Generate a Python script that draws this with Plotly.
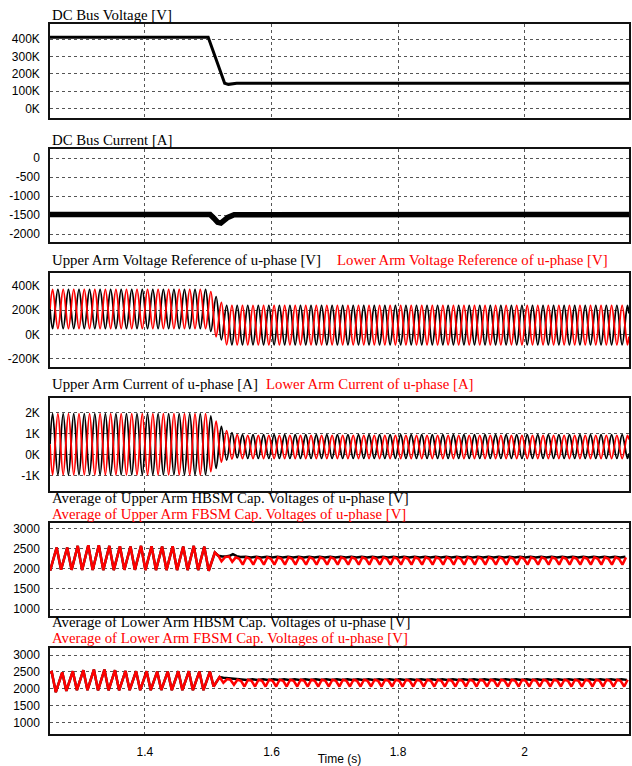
import numpy as np
import plotly.graph_objects as go

# ---------------------------------------------------------------- data
T_START, T_END = 1.25, 2.165
F_AC = 60.0                      # ac fundamental, Hz
X_TICKS = [1.4, 1.6, 1.8, 2.0]
X_TICK_TEXT = ["1.4", "1.6", "1.8", "2"]

# DC bus voltage [kV] and current [A]
VDC_T = [1.25, 1.50, 1.526, 1.532, 1.545, 2.165]
VDC_KV = [410, 410, 145, 139, 145, 145]
IDC_T = [1.25, 1.503, 1.509, 1.515, 1.520, 1.525, 1.531, 1.541, 2.165]
IDC_A = [-1485, -1485, -1580, -1690, -1710, -1640, -1560, -1490, -1485]

# Arm voltage references [kV]: value at window start/end, then one turning point per half cycle
VREF_UP_EDGE = [208, 172]
VREF_UP_PRE = [47, 370] * 15
VREF_UP_STEP = [24, 310, -45, 238]
VREF_UP_POST = [-85, 238] * 38
VREF_LO_EDGE = [208, -18]
VREF_LO_PRE = [370, 47] * 15
VREF_LO_STEP = [352, -20, 262, -85]
VREF_LO_POST = [238, -85] * 38

# Arm currents [A], same half-cycle turning points
IARM_UP_EDGE = [500, 60]
IARM_UP_PRE = [1950, -950] * 15
IARM_UP_STEP = [1850, -650, 1350, -250, 1050, -150]
IARM_UP_POST = [950, -170] * 37
IARM_LO_EDGE = [500, 720]
IARM_LO_PRE = [-950, 1950] * 15
IARM_LO_STEP = [-800, 1600, -350, 1150, -200, 950]
IARM_LO_POST = [-180, 920] * 37

# Upper arm average capacitor voltages [V]
CAPU_START = 1990
CAPU_TROUGH_T0, CAPU_PEAK_T0 = 1.2508, 1.2605
CAPU_PRE_TROUGHS = [1985, 1975, 1970, 1965, 1965, 1965, 1965, 1970,
                    1970, 1965, 1965, 1965, 1965, 1965, 1965, 1945]
CAPU_PRE_PEAKS = [2525, 2525, 2565, 2580, 2580, 2565, 2555, 2550,
                  2565, 2555, 2550, 2555, 2550, 2565, 2545]
CAPU_HB_STEP_T = [1.5105, 1.516, 1.522, 1.528, 1.534, 1.539, 1.545, 1.551]
CAPU_HB_STEP = [2400, 2320, 2300, 2300, 2320, 2360, 2310, 2290]
CAPU_HB_RIPPLE = [2295, 2275]
CAPU_FB_STEP_T = [1.5105, 1.516, 1.521, 1.527, 1.533, 1.538]
CAPU_FB_STEP = [2400, 2320, 2180, 2290, 2300, 2170]
CAPU_FB_RIPPLE = [2280, 2245, 2100]

# Lower arm average capacitor voltages [V]
CAPL_START = 2480
CAPL_PEAK_T0, CAPL_TROUGH_T0 = 1.2527, 1.2592
CAPL_PRE_PEAKS = [2500, 2490, 2520, 2550, 2570, 2570, 2550, 2530,
                  2520, 2520, 2510, 2510, 2520, 2520, 2510, 2510]
CAPL_PRE_TROUGHS = [1900, 1940, 1960, 1960, 1955, 1955, 1955, 1960,
                    1960, 1960, 1965, 1960, 1960, 1960, 1960]
CAPL_HB_STEP_T = [1.5085, 1.518, 1.524, 1.530, 1.536, 1.545]
CAPL_HB_STEP = [2070, 2350, 2330, 2320, 2300, 2290]
CAPL_HB_RIPPLE = [2285, 2265]
CAPL_FB_STEP_T = [1.5085, 1.518, 1.524, 1.530, 1.535, 1.5407]
CAPL_FB_STEP = [2070, 2350, 2180, 2290, 2270, 2120]
CAPL_FB_RIPPLE = [2270, 2240, 2070]

TITLES = [
    ("DC Bus Voltage [V]", None),
    ("DC Bus Current [A]", None),
    ("Upper Arm Voltage Reference of u-phase [V]", "Lower Arm Voltage Reference of u-phase [V]"),
    ("Upper Arm Current of u-phase [A]", "Lower Arm Current of u-phase [A]"),
    ("Average of Upper Arm HBSM Cap. Voltages of u-phase [V]",
     "Average of Upper Arm FBSM Cap. Voltages of u-phase [V]"),
    ("Average of Lower Arm HBSM Cap. Voltages of u-phase [V]",
     "Average of Lower Arm FBSM Cap. Voltages of u-phase [V]"),
]

# ---------------------------------------------------------------- helpers
HALF = 1.0 / (2 * F_AC)
T_TURN = T_START + (np.arange(110) + 0.5) * HALF


def half_cycle_wave(edge, pre, step, post):
    vals = list(pre) + list(step) + list(post)
    vals = vals[:len(T_TURN)]
    t = np.concatenate([[T_START], T_TURN, [T_END]])
    y = [edge[0]] + vals + [edge[1]]
    return t, y


def zigzag(start_val, first_t0, first_vals, second_t0, second_vals):
    t1 = first_t0 + np.arange(len(first_vals)) / F_AC
    t2 = second_t0 + np.arange(len(second_vals)) / F_AC
    t = np.concatenate([[T_START], t1, t2])
    y = np.concatenate([[start_val], first_vals, second_vals])
    order = np.argsort(t)
    return list(t[order]), list(y[order])


def repeat_after(t0, step, pattern):
    t = np.arange(t0, T_END + 1e-9, step)
    reps = len(t) // len(pattern) + 1
    return list(t), (list(pattern) * reps)[:len(t)]


BLACK, RED = "#000000", "#ff0000"
traces = []


def add(panel, x, y, color, width, shape="linear"):
    suffix = "" if panel == 1 else str(panel)
    traces.append(go.Scatter(x=x, y=y, mode="lines", xaxis="x" + suffix, yaxis="y" + suffix,
                             line=dict(color=color, width=width, shape=shape),
                             hoverinfo="skip", showlegend=False))


# panel 1, 2
add(1, VDC_T, VDC_KV, BLACK, 3)
add(2, IDC_T, IDC_A, BLACK, 5.5)

# panel 3
t, y = half_cycle_wave(VREF_UP_EDGE, VREF_UP_PRE, VREF_UP_STEP, VREF_UP_POST)
add(3, t, y, BLACK, 1.8, "spline")
t, y = half_cycle_wave(VREF_LO_EDGE, VREF_LO_PRE, VREF_LO_STEP, VREF_LO_POST)
add(3, t, y, RED, 1.8, "spline")

# panel 4
t, y = half_cycle_wave(IARM_UP_EDGE, IARM_UP_PRE, IARM_UP_STEP, IARM_UP_POST)
add(4, t, y, BLACK, 1.8, "spline")
t, y = half_cycle_wave(IARM_LO_EDGE, IARM_LO_PRE, IARM_LO_STEP, IARM_LO_POST)
add(4, t, y, RED, 1.8, "spline")

# panel 5
pt, pv = zigzag(CAPU_START, CAPU_TROUGH_T0, CAPU_PRE_TROUGHS, CAPU_PEAK_T0, CAPU_PRE_PEAKS)
rt, rv = repeat_after(CAPU_HB_STEP_T[-1] + HALF, HALF, CAPU_HB_RIPPLE)
add(5, pt + CAPU_HB_STEP_T + rt, pv + CAPU_HB_STEP + rv, BLACK, 2.5)
rt, rv = repeat_after(CAPU_FB_STEP_T[-1] + 1 / (3 * F_AC), 1 / (3 * F_AC), CAPU_FB_RIPPLE)
add(5, pt + CAPU_FB_STEP_T + rt, pv + CAPU_FB_STEP + rv, RED, 2.5)

# panel 6
pt, pv = zigzag(CAPL_START, CAPL_PEAK_T0, CAPL_PRE_PEAKS, CAPL_TROUGH_T0, CAPL_PRE_TROUGHS)
rt, rv = repeat_after(CAPL_HB_STEP_T[-1] + HALF, HALF, CAPL_HB_RIPPLE)
add(6, pt + CAPL_HB_STEP_T + rt, pv + CAPL_HB_STEP + rv, BLACK, 2.5)
rt, rv = repeat_after(CAPL_FB_STEP_T[-1] + 1 / (3 * F_AC), 1 / (3 * F_AC), CAPL_FB_RIPPLE)
add(6, pt + CAPL_FB_STEP_T + rt, pv + CAPL_FB_STEP + rv, RED, 2.5)

fig = go.Figure(traces)

# ---------------------------------------------------------------- layout
W, H = 632, 766
BOX_X = (50, 629)
BOXES = [(24, 118), (149, 242), (273.3, 367), (398.3, 491), (522.7, 615.7), (647.7, 734.3)]
Y_RANGES = [[-55, 487], [-2210, 245], [-268, 502], [-1720, 2680], [834, 3139], [657, 3216]]
Y_TICKS = [
    ([0, 100, 200, 300, 400], ["0K", "100K", "200K", "300K", "400K"]),
    ([-2000, -1500, -1000, -500, 0], ["-2000", "-1500", "-1000", "-500", "0"]),
    ([-200, 0, 200, 400], ["-200K", "0K", "200K", "400K"]),
    ([-1000, 0, 1000, 2000], ["-1K", "0K", "1K", "2K"]),
    ([1000, 1500, 2000, 2500, 3000], ["1000", "1500", "2000", "2500", "3000"]),
    ([1000, 1500, 2000, 2500, 3000], ["1000", "1500", "2000", "2500", "3000"]),
]

TICK_FONT = dict(family="Liberation Sans, Arial, sans-serif", size=12, color="#000")
TITLE_FONT = "Liberation Serif, Times New Roman, serif"
frame = dict(showline=True, mirror=True, linecolor="#111", linewidth=1.5,
             showgrid=True, gridcolor="#555", griddash="dot", gridwidth=1,
             zeroline=False, ticks="", automargin=False)

layout = dict(template="none", width=W, height=H, margin=dict(l=0, r=0, t=0, b=0, autoexpand=False),
              paper_bgcolor="white", plot_bgcolor="white", showlegend=False)

for i, ((top, bot), yr, (tv, tt)) in enumerate(zip(BOXES, Y_RANGES, Y_TICKS), start=1):
    sfx = "" if i == 1 else str(i)
    last = i == len(BOXES)
    layout["xaxis" + sfx] = dict(
        frame, domain=[BOX_X[0] / W, BOX_X[1] / W], range=[T_START, T_END],
        anchor="y" + sfx, matches=None if i == 1 else "x",
        tickvals=X_TICKS, ticktext=X_TICK_TEXT, showticklabels=last,
        tickfont=TICK_FONT, ticklabelstandoff=6,
        title=dict(text="Time (s)", font=dict(family=TICK_FONT["family"], size=12, color="#000"),
                   standoff=4) if last else None,
    )
    layout["yaxis" + sfx] = dict(
        frame, domain=[1 - bot / H, 1 - top / H], range=yr, anchor="x" + sfx,
        tickvals=tv, ticktext=tt, tickfont=TICK_FONT, ticklabelstandoff=6,
    )

fig.update_layout(**layout)

# panel titles
TITLE_Y = [14.7, 140, 260, 384, (498, 514), (622, 638)]
TITLE_X = 51
RED_X = {3: 336, 4: 265}
annotations = []
for i, ((black_t, red_t), ty) in enumerate(zip(TITLES, TITLE_Y), start=1):
    if isinstance(ty, tuple):
        yb, yr_ = ty
        annotations.append(dict(text=black_t, x=TITLE_X / W, y=1 - yb / H))
        annotations.append(dict(text=red_t, x=TITLE_X / W, y=1 - yr_ / H, color=RED))
    else:
        annotations.append(dict(text=black_t, x=TITLE_X / W, y=1 - ty / H))
        if red_t:
            annotations.append(dict(text=red_t, x=RED_X[i] / W, y=1 - ty / H, color=RED))

fig.update_layout(annotations=[
    dict(text=a["text"], x=a["x"], y=a["y"], xref="paper", yref="paper",
         xanchor="left", yanchor="middle", showarrow=False, borderpad=0,
         font=dict(family=TITLE_FONT, size=14.8, color=a.get("color", BLACK)))
    for a in annotations
])

fig.write_html("out.html")
